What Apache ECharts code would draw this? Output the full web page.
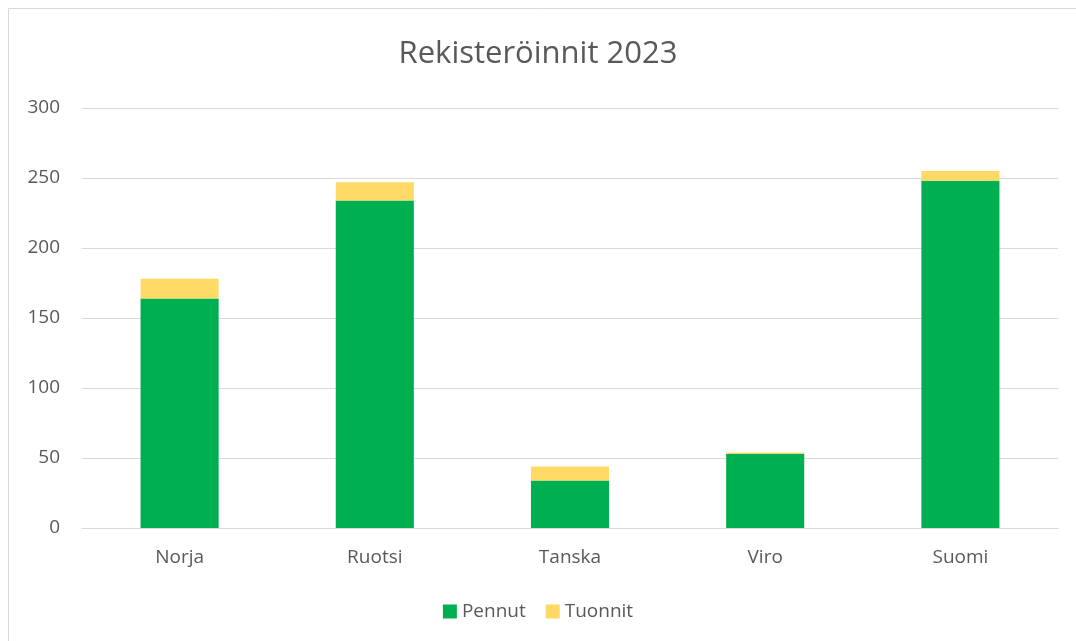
<!DOCTYPE html>
<html>
<head>
<meta charset="utf-8">
<script src="https://cdn.jsdelivr.net/npm/echarts@6/dist/echarts.min.js"></script>
<style>
  html, body { margin: 0; padding: 0; background: #fff; }
  #main { width: 1076px; height: 641px; }
</style>
</head>
<body>
<div id="main"></div>
<script>
const categories = ['Norja', 'Ruotsi', 'Tanska', 'Viro', 'Suomi'];
const pennut = [164, 234, 34, 53, 248];
const tuonnit = [14, 13, 10, 1, 7];
const yTicks = [0, 50, 100, 150, 200, 250, 300];

const chart = echarts.init(document.getElementById('main'));
const font = '"Open Sans", "Liberation Sans", sans-serif';

chart.setOption({
    animation: false,
    title: {
        text: 'Rekisteröinnit 2023',
        left: 'center',
        top: 34,
        textStyle: { fontFamily: font, fontSize: 31, fontWeight: 'normal', color: '#595959' }
    },
    graphic: [{
        type: 'rect',
        shape: { x: 8.5, y: 8.5, width: 1080, height: 640 },
        style: { fill: 'none', stroke: '#d9d9d9', lineWidth: 1 }
    }],
    legend: {
        bottom: 15,
        left: 'center',
        itemWidth: 14,
        itemHeight: 14,
        itemGap: 20,
        icon: 'rect',
        textStyle: { fontFamily: font, fontSize: 19, color: '#595959' },
        data: ['Pennut', 'Tuonnit']
    },
    grid: { left: 82, right: 18, top: 108, bottom: 113 },
    xAxis: {
        type: 'category',
        data: categories,
        axisLine: { lineStyle: { color: '#d9d9d9' } },
        axisTick: { show: false },
        axisLabel: { fontFamily: font, fontSize: 19, color: '#595959', margin: 20 }
    },
    yAxis: {
        type: 'value',
        min: yTicks[0],
        max: yTicks[yTicks.length - 1],
        interval: 50,
        axisLine: { show: false },
        axisTick: { show: false },
        splitLine: { lineStyle: { color: '#d9d9d9' } },
        axisLabel: { fontFamily: font, fontSize: 19, color: '#595959', margin: 22 }
    },
    series: [
        {
            name: 'Pennut',
            type: 'bar',
            stack: 'total',
            barWidth: '40%',
            itemStyle: { color: '#00b050' },
            data: pennut
        },
        {
            name: 'Tuonnit',
            type: 'bar',
            stack: 'total',
            barWidth: '40%',
            itemStyle: { color: '#ffd966' },
            data: tuonnit
        }
    ]
});
</script>
</body>
</html>
